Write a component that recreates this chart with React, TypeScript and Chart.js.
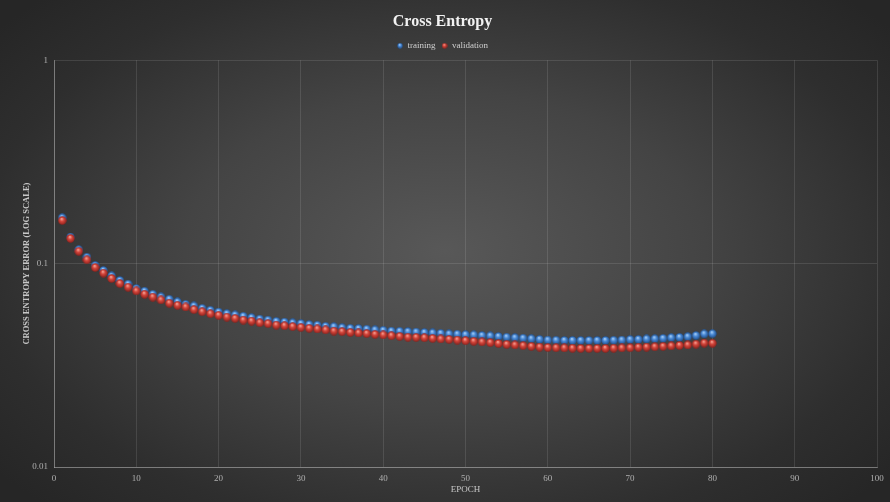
import React, { useEffect, useRef } from "react";
import { Chart, registerables } from "chart.js";

Chart.register(...registerables);

const epochs = [1,2,3,4,5,6,7,8,9,10,11,12,13,14,15,16,17,18,19,20,21,22,23,24,25,26,27,28,29,30,31,32,33,34,35,36,37,38,39,40,41,42,43,44,45,46,47,48,49,50,51,52,53,54,55,56,57,58,59,60,61,62,63,64,65,66,67,68,69,70,71,72,73,74,75,76,77,78,79,80];

const training = [0.168,0.135,0.117,0.1076,0.098,0.0925,0.087,0.0826,0.0793,0.0754,0.0732,0.0707,0.0686,0.0668,0.0648,0.0631,0.0619,0.0603,0.059,0.0578,0.0567,0.0559,0.0551,0.0542,0.0534,0.0528,0.052,0.0516,0.0511,0.0507,0.0501,0.0498,0.0492,0.0489,0.0484,0.0481,0.0479,0.0476,0.0472,0.047,0.0466,0.0465,0.0463,0.0461,0.0458,0.0456,0.0454,0.0451,0.045,0.0447,0.0446,0.0443,0.0441,0.0438,0.0435,0.0432,0.043,0.0427,0.0424,0.0421,0.042,0.0419,0.0419,0.0419,0.0419,0.0419,0.0419,0.042,0.0421,0.0423,0.0424,0.0426,0.0427,0.0429,0.0432,0.0434,0.0437,0.0443,0.0451,0.0452];

const validation = [0.163,0.133,0.115,0.1044,0.0957,0.0898,0.0845,0.0798,0.0766,0.0734,0.0707,0.0685,0.0663,0.0639,0.0624,0.0612,0.0594,0.058,0.0567,0.0557,0.0546,0.0538,0.0528,0.0522,0.0512,0.0507,0.0499,0.0495,0.049,0.0486,0.0481,0.0477,0.0472,0.0466,0.0463,0.0459,0.0456,0.0453,0.0449,0.0446,0.0442,0.0439,0.0435,0.0434,0.0432,0.0429,0.0426,0.0424,0.0421,0.0418,0.0415,0.0412,0.0409,0.0405,0.0401,0.0398,0.0395,0.0392,0.0389,0.0387,0.0386,0.0385,0.0384,0.0383,0.0383,0.0383,0.0383,0.0384,0.0385,0.0386,0.0388,0.0389,0.039,0.0392,0.0394,0.0396,0.0398,0.0402,0.0407,0.0406];

const seriesNames = ["training", "validation"];
const yTicks = [0.01, 0.1, 1];
const xTicks = [0, 10, 20, 30, 40, 50, 60, 70, 80, 90, 100];

function sphere(size: number, light: string, base: string, dark: string): HTMLCanvasElement {
  const c = document.createElement("canvas");
  c.width = size;
  c.height = size;
  const ctx = c.getContext("2d")!;
  const r = size / 2;
  const g = ctx.createRadialGradient(r * 0.85, r * 0.6, 0, r, r, r);
  g.addColorStop(0, light);
  g.addColorStop(0.45, base);
  g.addColorStop(1, dark);
  ctx.fillStyle = g;
  ctx.beginPath();
  ctx.arc(r, r, r - 0.3, 0, Math.PI * 2);
  ctx.fill();
  return c;
}

export default function App() {
  const ref = useRef<HTMLCanvasElement>(null);
  useEffect(() => {
    if (!ref.current) return;
    const blue = sphere(9, "#b8dcff", "#4a8ad6", "#1d4a85");
    const red = sphere(9, "#ffb4a6", "#d4463c", "#8a1f1a");
    const blueS = sphere(6, "#b8dcff", "#4a8ad6", "#1d4a85");
    const redS = sphere(6, "#ffb4a6", "#d4463c", "#8a1f1a");
    const grid = "rgba(255,255,255,0.11)";
    const chart = new Chart(ref.current, {
      type: "scatter",
      data: {
        datasets: [
          {
            label: seriesNames[0],
            data: epochs.map((e, i) => ({ x: e, y: training[i] })),
            pointStyle: blue as any,
            pointRadius: 4.5,
            order: 1,
          },
          {
            label: seriesNames[1],
            data: epochs.map((e, i) => ({ x: e, y: validation[i] })),
            pointStyle: red as any,
            pointRadius: 4.5,
            order: 0,
          },
        ],
      },
      options: {
        animation: false,
        responsive: false,
        maintainAspectRatio: false,
        layout: { padding: { left: 8, right: 13, top: 1, bottom: 0 } },
        plugins: {
          title: {
            display: true,
            text: "Cross Entropy",
            color: "#f2f2f2",
            font: { family: "Liberation Serif", size: 16, weight: "bold" },
            padding: { top: 11, bottom: 4 },
          },
          legend: {
            display: true,
            labels: {
              color: "#cfcfcf",
              font: { family: "Liberation Serif", size: 9 },
              usePointStyle: true,
              padding: 6,
              boxWidth: 6,
              boxHeight: 6,
              generateLabels: () => [
                { text: seriesNames[0], pointStyle: blueS as any, fillStyle: "#4a8ad6", strokeStyle: "transparent", lineWidth: 0, fontColor: "#cfcfcf", datasetIndex: 0 } as any,
                { text: seriesNames[1], pointStyle: redS as any, fillStyle: "#d4463c", strokeStyle: "transparent", lineWidth: 0, fontColor: "#cfcfcf", datasetIndex: 1 } as any,
              ],
            },
          },
          tooltip: { enabled: false },
        },
        scales: {
          x: {
            type: "linear",
            min: 0,
            max: 100,
            afterBuildTicks: (s: any) => { s.ticks = xTicks.map((v) => ({ value: v })); },
            afterFit: (s: any) => { s.height = 35; },
            grid: { color: grid, drawTicks: false },
            border: { color: "rgba(255,255,255,0.3)" },
            ticks: { color: "#b0b0b0", font: { family: "Liberation Serif", size: 9 }, padding: 6, maxRotation: 0 },
            title: {
              display: true,
              text: "EPOCH",
              color: "#c8c8c8",
              font: { family: "Liberation Serif", size: 9 },
              padding: { top: 0, bottom: 7 },
            },
          },
          y: {
            type: "logarithmic",
            min: 0.01,
            max: 1,
            afterBuildTicks: (s: any) => { s.ticks = yTicks.map((v) => ({ value: v })); },
            afterFit: (s: any) => { s.width = 46; },
            grid: { color: grid, drawTicks: false },
            border: { color: "rgba(255,255,255,0.3)" },
            ticks: {
              color: "#b0b0b0",
              font: { family: "Liberation Serif", size: 9 },
              padding: 6,
              callback: (v: any) => String(v),
            },
            title: {
              display: true,
              text: "CROSS ENTROPY ERROR (LOG SCALE)",
              color: "#c8c8c8",
              font: { family: "Liberation Serif", size: 8.5, weight: "bold" },
              padding: { top: 14, bottom: 0 },
            },
          },
        },
      },
    });
    return () => chart.destroy();
  }, []);
  return (
    <div
      style={{
        position: "fixed",
        left: 0,
        top: 0,
        width: 890,
        height: 502,
        background: "radial-gradient(ellipse 65% 70% at 50% 50%, #585858 0%, #444444 45%, #2e2e2e 80%, #262626 100%)",
      }}
    >
      <canvas ref={ref} width={890} height={502} style={{ display: "block", width: 890, height: 502 }} />
    </div>
  );
}
